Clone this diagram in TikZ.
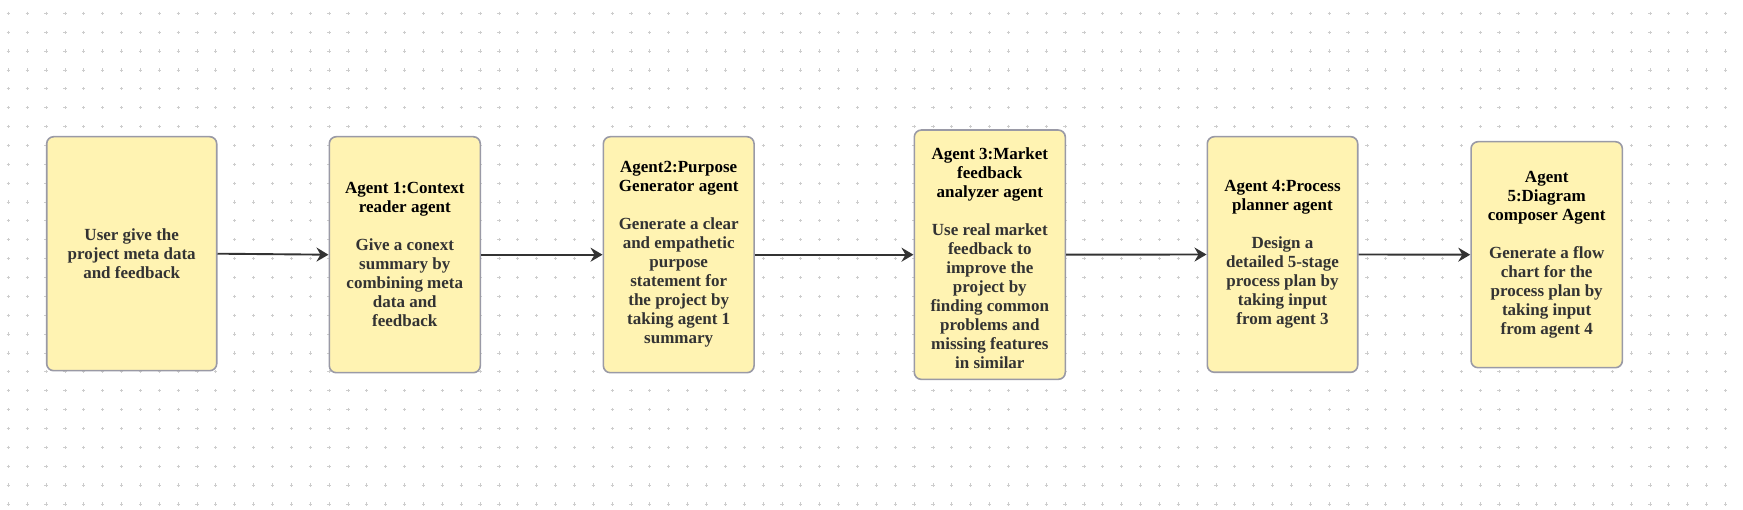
\documentclass[tikz,border=0pt]{standalone}
\usepackage{fontspec}
\setmainfont{Liberation Serif}
\usetikzlibrary{arrows.meta}
\definecolor{boxfill}{HTML}{FFF3B2}
\definecolor{boxline}{HTML}{9A9AA6}
\definecolor{bodytext}{HTML}{333333}
\definecolor{arrowc}{HTML}{333333}
\definecolor{dotc}{HTML}{CDCDCD}
\tikzset{
  agentbox/.style={draw=boxline, line width=1.6pt, fill=boxfill, rounded corners=7pt,
    inner sep=0pt, align=center, text=bodytext,
    font=\fontsize{17}{19}\selectfont\bfseries},
  flowarrow/.style={draw=arrowc, line width=1.9pt,
    -{Stealth[length=12pt,width=14pt,inset=4pt]}},
  gridmark/.style={draw=dotc, line width=0.8pt}
}
\newcommand{\ttl}[1]{\textcolor{black}{#1}}
\begin{document}
\begin{tikzpicture}[x=1pt,y=-1pt]
\useasboundingbox (0,0) rectangle (1743,510);
\fill[white] (0,0) rectangle (1743,510);
% dotted grid
\draw[gridmark] \foreach \i in {0,...,91}{ \foreach \j in {0,...,26}{
  ({8.3+18.87*\i-1.6},{13.3+18.87*\j}) -- +(3.2,0)
  ({8.3+18.87*\i},{13.3+18.87*\j-1.6}) -- +(0,3.2) } };
% boxes
\node[agentbox, minimum width=170pt, minimum height=234pt] (b0) at (131.7,253.7)
  {User give the\\project meta data\\and feedback};
\node[agentbox, minimum width=151pt, minimum height=236pt] (b1) at (404.8,254.7)
  {\ttl{Agent 1:Context}\\\ttl{reader agent}\\[19pt]Give a conext\\summary by\\combining meta\\data and\\feedback};
\node[agentbox, minimum width=150.7pt, minimum height=236pt] (b2) at (678.7,254.7)
  {\ttl{Agent2:Purpose}\\\ttl{Generator agent}\\[19pt]Generate a clear\\and empathetic\\purpose\\statement for\\the project by\\taking agent 1\\summary};
\node[agentbox, minimum width=151pt, minimum height=249.3pt] (b3) at (989.8,254.7)
  {\rule{0pt}{19.5pt}\ttl{Agent 3:Market}\\\ttl{feedback}\\\ttl{analyzer agent}\\[19pt]Use real market\\feedback to\\improve the\\project by\\finding common\\problems and\\missing features\\in similar};
\node[agentbox, minimum width=150.4pt, minimum height=235.6pt] (b4) at (1282.5,254.5)
  {\ttl{Agent 4:Process}\\\ttl{planner agent}\\[19pt]Design a\\detailed 5-stage\\process plan by\\taking input\\from agent 3};
\node[agentbox, minimum width=151.3pt, minimum height=226pt] (b5) at (1546.7,254.7)
  {\ttl{Agent}\\\ttl{5:Diagram}\\\ttl{composer Agent}\\[19pt]Generate a flow\\chart for the\\process plan by\\taking input\\from agent 4};
% connectors
\draw[flowarrow] (b0.east) -- (b1.west);
\draw[flowarrow] (b1.east) -- (b2.west);
\draw[flowarrow] (b2.east) -- (b3.west);
\draw[flowarrow] (b3.east) -- (b4.west);
\draw[flowarrow] (b4.east) -- (b5.west);
\end{tikzpicture}
\end{document}
